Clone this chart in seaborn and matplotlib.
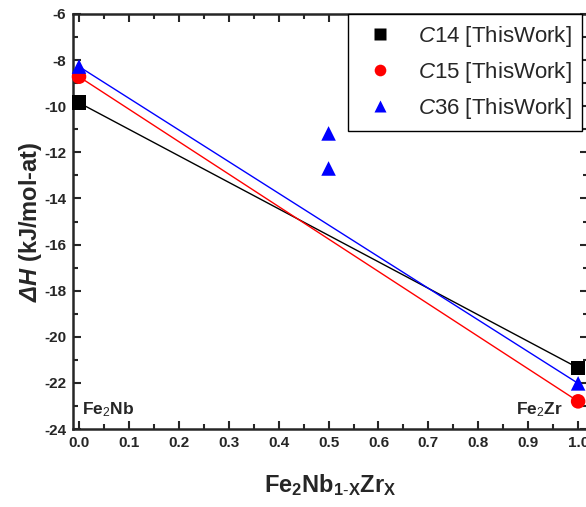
import pandas as pd
import matplotlib
matplotlib.use('Agg')
import matplotlib.pyplot as plt
import seaborn as sns

# formation enthalpy, end members Fe2Nb (x=0) and Fe2Zr (x=1)
x_end = [0.0, 1.0]
dh_c14 = [-9.85, -21.35]
dh_c15 = [-8.72, -22.80]
dh_c36 = [-8.28, -22.02]
# extra C36 points at x = 0.5
x_mid = [0.5, 0.5]
dh_c36_mid = [-11.18, -12.70]

labels = ['$\\mathit{C}$14 [ThisWork]', '$\\mathit{C}$15 [ThisWork]', '$\\mathit{C}$36 [ThisWork]']
colores = ['black', 'red', 'blue']
marcadores = ['s', 'o', '^']

sns.set_style('ticks')
plt.rcParams['font.family'] = ['Liberation Sans', 'DejaVu Sans']
plt.rcParams['axes.unicode_minus'] = False
plt.rcParams['mathtext.fontset'] = 'custom'
plt.rcParams['mathtext.rm'] = 'Liberation Sans'
plt.rcParams['mathtext.it'] = 'Liberation Sans:italic'
plt.rcParams['mathtext.bf'] = 'Liberation Sans:bold'
plt.rcParams['mathtext.bfit'] = 'Liberation Sans:italic:bold'

df = pd.concat([
    pd.DataFrame({'x': x_end, 'dh': dh_c14, 'fase': labels[0]}),
    pd.DataFrame({'x': x_end, 'dh': dh_c15, 'fase': labels[1]}),
    pd.DataFrame({'x': x_end + x_mid, 'dh': dh_c36 + dh_c36_mid, 'fase': labels[2]}),
], ignore_index=True)
df_linhas = df[df['x'] != 0.5]

fig = plt.figure(figsize=(5.86, 5.07), dpi=100)
ax = fig.add_axes([0.1246, 0.1538, 0.879, 0.8186])

sns.lineplot(data=df_linhas, x='x', y='dh', hue='fase', palette=colores,
             hue_order=labels, linewidth=1.0, legend=False, ax=ax)
sns.scatterplot(data=df, x='x', y='dh', hue='fase', style='fase',
                palette=colores, hue_order=labels, style_order=labels,
                markers=marcadores, s=110, edgecolor='none', ax=ax, zorder=3,
                clip_on=False)

ax.set_xlim(-0.012, 1.02)
ax.set_ylim(-24, -6)
ax.set_xticks([i / 10 for i in range(11)])
ax.set_xticks([i / 20 for i in range(21)], minor=True)
ax.set_yticks(range(-24, -5, 2))
ax.set_yticks(range(-24, -5, 1), minor=True)
ax.tick_params(which='both', direction='in', width=1.5, top=True, right=True)
ax.tick_params(which='major', length=6, labelsize=11, pad=5)
ax.tick_params(which='minor', length=3.5)
for lab in ax.get_xticklabels() + ax.get_yticklabels():
    lab.set_fontweight('bold')
ax.xaxis.set_major_formatter(matplotlib.ticker.FormatStrFormatter('%.1f'))
for s in ax.spines.values():
    s.set_linewidth(1.8)

ax.set_xlabel('$\\mathbf{Fe_2Nb_{1\\text{-}X}Zr_X}$', fontsize=17, labelpad=16)
ax.set_ylabel('$\\mathbfit{\\Delta H}$ (kJ/mol-at)', fontsize=17, fontweight='bold', labelpad=0)

ax.text(0.005, -23.15, 'Fe$_2$Nb', fontsize=12.5, fontweight='bold', ha='left', va='center')
ax.text(0.97, -23.15, 'Fe$_2$Zr', fontsize=12.5, fontweight='bold', ha='right', va='center')

h, l = ax.get_legend_handles_labels()
leg = ax.legend(h, l, loc='upper right', bbox_to_anchor=(582 / 586, 1 - 14 / 507),
                bbox_transform=fig.transFigure, fontsize=16, frameon=True,
                fancybox=False, edgecolor='black', framealpha=1, borderaxespad=0,
                handletextpad=0.7, labelspacing=0.5, borderpad=0.45, markerscale=0.8)
leg.get_frame().set_linewidth(1.0)

fig.savefig('out.png', dpi=100)
